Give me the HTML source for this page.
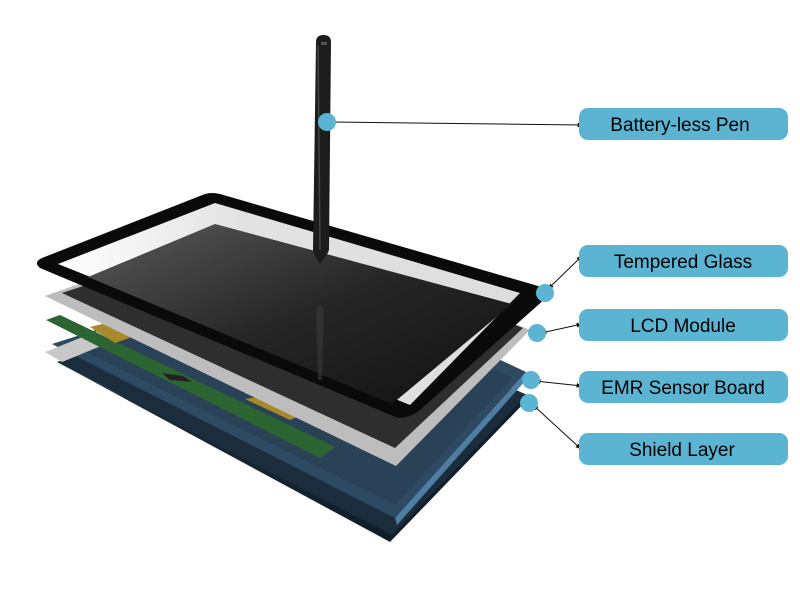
<!DOCTYPE html>
<html><head><meta charset="utf-8"><style>
html,body{margin:0;padding:0;background:#fff;}
svg{display:block;}
text{font-family:"Liberation Sans",sans-serif;font-size:19px;fill:#000;text-anchor:middle;}
</style></head><body>
<svg width="800" height="600" viewBox="0 0 800 600" xmlns="http://www.w3.org/2000/svg">
<defs>
<linearGradient id="sh" x1="0" y1="0" x2="1" y2="1"><stop offset="0" stop-color="#d8d8d8"/><stop offset="0.3" stop-color="#1a2a38"/><stop offset="1" stop-color="#0d1a24"/></linearGradient>
<linearGradient id="scr" x1="0" y1="0" x2="1" y2="1"><stop offset="0" stop-color="#5a5a5a"/><stop offset="0.5" stop-color="#262626"/><stop offset="1" stop-color="#111"/></linearGradient>
<linearGradient id="wh" x1="0" y1="0" x2="1" y2="0"><stop offset="0" stop-color="#fff"/><stop offset="0.4" stop-color="#e2e2e2"/><stop offset="1" stop-color="#ddd"/></linearGradient>
<marker id="ah" viewBox="0 0 10 10" refX="9" refY="5" markerWidth="6" markerHeight="6" orient="auto-start-reverse"><path d="M0,1 L10,5 L0,9 z" fill="#111"/></marker>
</defs>
<!-- shield -->
<polygon points="57,362 300,290 527,400 390,542" fill="url(#sh)"/>
<polygon points="57,362 300,290 527,395 392,535" fill="#1b2d3c"/>
<!-- blue EMR -->
<polygon points="52,344 300,265 526,372 395,518" fill="#2e4a62"/>
<polygon points="70,344 300,272 512,378 395,505" fill="#294257"/>
<polygon points="395,518 526,372 526,380 397,525" fill="#4d7da0"/>
<!-- small silver -->
<polygon points="45,352 120,322 140,330 62,362" fill="#c8c8c8"/>
<!-- green strip -->
<polygon points="46,320 60,315 335,447 320,458" fill="#2c6432"/>
<polygon points="90,327 110,322 135,336 115,343" fill="#a88a2a"/>
<polygon points="245,399 265,396 305,414 290,420" fill="#a88a2a"/>
<polygon points="162,373 183,376 192,382 170,380" fill="#222"/>
<!-- LCD silver -->
<polygon points="45,296 265,218 530,330 396,466" fill="#bdbdbd"/>
<polygon points="62,293 265,226 523,328 395,448" fill="#2e2e2e"/>
<!-- glass frame -->
<path d="M42,258 L205,194 Q212,192 220,194 L545,288 Q552,292 546,298 L420,410 Q410,418 398,418 L40,268 Q33,262 42,258 Z" fill="#0a0a0a"/>
<polygon points="58,264 215,203 520,293 410,405" fill="url(#wh)"/>
<polygon points="88,277 215,224 512,304 392,404" fill="url(#scr)"/>
<!-- pen reflection -->
<path d="M316,310 Q320,300 324,310 L322,380 L318,380 Z" fill="#3a3a3a" opacity="0.6"/>
<!-- pen -->
<path d="M316,42 Q316,35 323.5,35 Q331,35 331,42 L329,250 Q326,258 320,264 Q315,258 313,250 Z" fill="#1c1c1c"/>
<path d="M318,45 L320,250" stroke="#444" stroke-width="1.5"/>
<rect x="321" y="42" width="6" height="3" fill="#555"/>
<!-- connectors -->
<g stroke="#111" stroke-width="1" fill="none">
<line x1="333" y1="122" x2="583" y2="125" marker-end="url(#ah)"/>
<line x1="548" y1="289" x2="582" y2="256" marker-end="url(#ah)" marker-start="url(#ah)"/>
<line x1="541" y1="333" x2="582" y2="324" marker-end="url(#ah)" marker-start="url(#ah)"/>
<line x1="535" y1="381" x2="582" y2="386" marker-end="url(#ah)" marker-start="url(#ah)"/>
<line x1="533" y1="405" x2="581" y2="449" marker-end="url(#ah)" marker-start="url(#ah)"/>
</g>
<g fill="#5ab4d2">
<circle cx="327" cy="122" r="9"/>
<circle cx="545" cy="293" r="9"/>
<circle cx="537" cy="333" r="9"/>
<circle cx="531" cy="380" r="9"/>
<circle cx="529" cy="403" r="9"/>
<rect x="579" y="108" width="209" height="32" rx="9"/>
<rect x="579" y="245" width="209" height="32" rx="9"/>
<rect x="579" y="309" width="209" height="32" rx="9"/>
<rect x="579" y="371" width="209" height="32" rx="9"/>
<rect x="579" y="433" width="209" height="32" rx="9"/>
</g>
<text x="680" y="131">Battery-less Pen</text>
<text x="683" y="268">Tempered Glass</text>
<text x="683" y="332">LCD Module</text>
<text x="683" y="394">EMR Sensor Board</text>
<text x="682" y="456">Shield Layer</text>
</svg>
</body></html>
